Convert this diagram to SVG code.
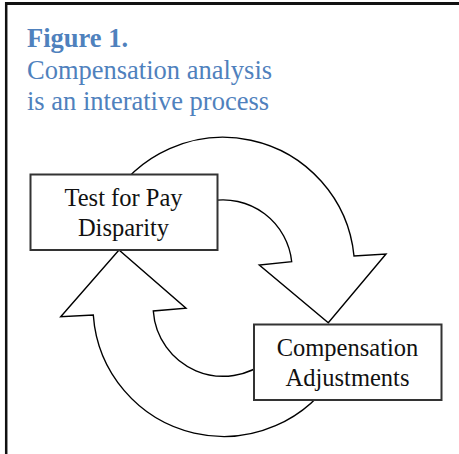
<svg xmlns="http://www.w3.org/2000/svg" width="459" height="454" viewBox="0 0 459 454">
  <style>
    .title { font-family: "Liberation Serif", "Times New Roman", serif; font-size: 26.5px; fill: #4F81BD; }
    .title-bold { font-weight: bold; }
    .label { font-family: "Liberation Serif", "Times New Roman", serif; font-size: 24.5px; fill: #111; text-anchor: middle; }
    .box { fill: #fff; stroke: #333; stroke-width: 2; }
    .arrow { fill: #fff; stroke: #000; stroke-width: 1.4; stroke-linejoin: miter; }
    .frame { stroke: #111; fill: none; }
  </style>

  <rect width="459" height="454" fill="#fff"/>

  <!-- frame: top and left rules -->
  <line class="frame" x1="5" y1="3.5" x2="459" y2="3.5" stroke-width="3"/>
  <line class="frame" x1="6.2" y1="2" x2="6.2" y2="454" stroke-width="2.5"/>

  <!-- caption -->
  <g id="caption">
    <text class="title title-bold" x="27" y="46.7">Figure 1.</text>
    <text class="title" x="27" y="79.3">Compensation analysis</text>
    <text class="title" x="27" y="110">is an interative process</text>
  </g>

  <!-- curved block arrows forming the cycle -->
  <g id="connectors">
    <path id="arrow-test-to-adjust" class="arrow"
          d="M 109.1 203.3 A 131.5 131.5 0 0 1 354 256 L 386 254 L 328.3 322.7 L 259.3 265 L 291.7 261.7 A 69 69 0 0 0 211 201 Z"/>
    <path id="arrow-adjust-to-test" class="arrow"
          d="M 336.6 371.3 A 130.6 130.6 0 0 1 93.3 315 L 60.7 316.7 L 119 250 L 186 308.3 L 153.3 311 A 70 70 0 0 0 268.5 359.6 Z"/>
  </g>

  <g id="node-test">
    <rect class="box" x="30.5" y="174.5" width="187" height="75.5"/>
    <text class="label" x="123.5" y="205.7">Test for Pay</text>
    <text class="label" x="123.5" y="235.5">Disparity</text>
  </g>

  <g id="node-adjust">
    <rect class="box" x="254" y="324.5" width="187.5" height="75.5"/>
    <text class="label" x="347.5" y="355.7">Compensation</text>
    <text class="label" x="347.5" y="385.5">Adjustments</text>
  </g>
</svg>
